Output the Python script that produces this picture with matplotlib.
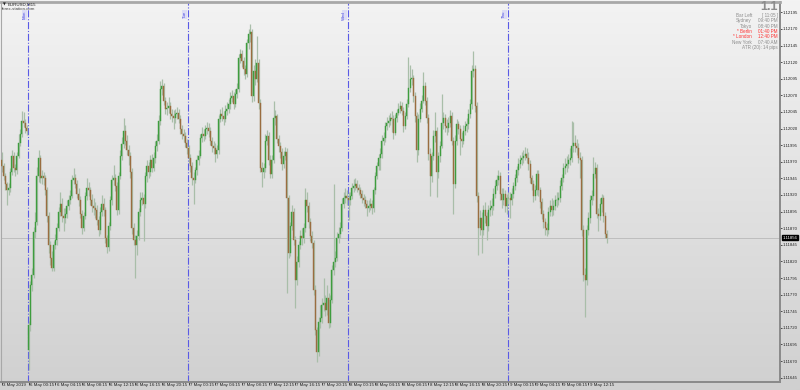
import numpy as np
import matplotlib
matplotlib.use("Agg")
import matplotlib.pyplot as plt
import matplotlib.transforms as mtransforms
from matplotlib.colors import LinearSegmentedColormap

plt.rcParams["font.family"] = ["Liberation Sans", "DejaVu Sans"]

# EURUSD M15 bars, 3 May 2019 20:00 .. 9 May 2019 ~15:00
opens = [
    1.11972, 1.11964, 1.11949, 1.11937, 1.11927, 1.11930, 1.11954, 1.11979, 1.11960, 1.11957, 1.11979, 1.11999, 1.12012, 1.12032, 1.12029, 1.12021,
    1.11687, 1.11724, 1.11784, 1.11799, 1.11864, 1.11879, 1.11949, 1.11975, 1.11946, 1.11948, 1.11945, 1.11927, 1.11889, 1.11844, 1.11825, 1.11810,
    1.11844, 1.11852, 1.11870, 1.11894, 1.11907, 1.11889, 1.11885, 1.11892, 1.11904, 1.11912, 1.11919, 1.11942, 1.11945, 1.11937, 1.11922, 1.11912,
    1.11892, 1.11871, 1.11889, 1.11919, 1.11930, 1.11927, 1.11912, 1.11904, 1.11900, 1.11897, 1.11882, 1.11867, 1.11894, 1.11907, 1.11897, 1.11855,
    1.11841, 1.11874, 1.11912, 1.11942, 1.11945, 1.11934, 1.11897, 1.11949, 1.11979, 1.11997, 1.12017, 1.12002, 1.11987, 1.11979, 1.11954, 1.11870,
    1.11852, 1.11844, 1.11859, 1.11894, 1.11912, 1.11916, 1.11907, 1.11949, 1.11964, 1.11954, 1.11972, 1.11961, 1.11975, 1.11994, 1.12002, 1.12032,
    1.12080, 1.12084, 1.12062, 1.12050, 1.12051, 1.12054, 1.12042, 1.12039, 1.12036, 1.12042, 1.12044, 1.12035, 1.12020, 1.12012, 1.12009, 1.11999,
    1.11990, 1.11976, 1.11964, 1.11945, 1.11942, 1.11957, 1.11972, 1.11979, 1.12006, 1.12012, 1.12009, 1.12020, 1.12021, 1.12017, 1.12002, 1.11994,
    1.11990, 1.11982, 1.11987, 1.12035, 1.12042, 1.12039, 1.12035, 1.12047, 1.12050, 1.12057, 1.12066, 1.12069, 1.12057, 1.12072, 1.12080, 1.12126,
    1.12132, 1.12122, 1.12110, 1.12102, 1.12149, 1.12162, 1.12165, 1.12069, 1.12107, 1.12095, 1.12119, 1.12059, 1.11960, 1.11954, 1.11960, 1.12002,
    1.12009, 1.11972, 1.11952, 1.11972, 1.12036, 1.12039, 1.12005, 1.11994, 1.11984, 1.11967, 1.11979, 1.11984, 1.11915, 1.11832, 1.11874, 1.11894,
    1.11852, 1.11792, 1.11819, 1.11844, 1.11859, 1.11855, 1.11870, 1.11912, 1.11904, 1.11879, 1.11859, 1.11847, 1.11777, 1.11717, 1.11684, 1.11729,
    1.11735, 1.11754, 1.11757, 1.11747, 1.11765, 1.11727, 1.11762, 1.11807, 1.11819, 1.11825, 1.11856, 1.11862, 1.11870, 1.11907, 1.11916, 1.11919,
    1.11915, 1.11912, 1.11919, 1.11930, 1.11934, 1.11937, 1.11931, 1.11927, 1.11922, 1.11915, 1.11912, 1.11907, 1.11901, 1.11904, 1.11907, 1.11900,
    1.11927, 1.11949, 1.11964, 1.11975, 1.11982, 1.12002, 1.12006, 1.12024, 1.12029, 1.12032, 1.12036, 1.12035, 1.12014, 1.12036, 1.12044, 1.12050,
    1.12054, 1.12047, 1.12024, 1.12039, 1.12057, 1.12081, 1.12095, 1.12096, 1.12069, 1.12039, 1.11987, 1.12035, 1.12050, 1.12062, 1.12084, 1.12062,
    1.12036, 1.11982, 1.11949, 1.11979, 1.12009, 1.12017, 1.11954, 1.11979, 1.11994, 1.12029, 1.12036, 1.12024, 1.12021, 1.12029, 1.12039, 1.12002,
    1.11937, 1.12002, 1.12027, 1.12020, 1.12005, 1.12002, 1.12017, 1.12024, 1.12027, 1.12042, 1.12057, 1.12107, 1.12110, 1.12054, 1.11919, 1.11870,
    1.11885, 1.11867, 1.11897, 1.11889, 1.11874, 1.11897, 1.11901, 1.11904, 1.11922, 1.11934, 1.11942, 1.11948, 1.11922, 1.11912, 1.11922, 1.11904,
    1.11915, 1.11916, 1.11912, 1.11922, 1.11934, 1.11945, 1.11957, 1.11967, 1.11972, 1.11975, 1.11979, 1.11982, 1.11975, 1.11967, 1.11946, 1.11937,
    1.11919, 1.11927, 1.11952, 1.11927, 1.11909, 1.11892, 1.11879, 1.11870, 1.11867, 1.11894, 1.11904, 1.11897, 1.11904, 1.11912, 1.11912, 1.11916,
    1.11934, 1.11945, 1.11960, 1.11964, 1.11967, 1.11972, 1.11976, 1.11994, 1.11999, 1.11994, 1.11990, 1.11976, 1.11972, 1.11867, 1.11799, 1.11792,
    1.11867, 1.11885, 1.11912, 1.11919, 1.11952, 1.11960, 1.11892, 1.11889, 1.11907, 1.11915, 1.11889, 1.11862,
]
highs = [
    1.11985, 1.11968, 1.11953, 1.11940, 1.11938, 1.11960, 1.11987, 1.11984, 1.11966, 1.11985, 1.12012, 1.12020, 1.12047, 1.12045, 1.12035, 1.12026,
    1.11730, 1.11790, 1.11810, 1.11872, 1.11895, 1.11962, 1.11987, 1.11980, 1.11958, 1.11955, 1.11950, 1.11932, 1.11895, 1.11850, 1.11835, 1.11850,
    1.11862, 1.11878, 1.11902, 1.11925, 1.11915, 1.11900, 1.11900, 1.11912, 1.11920, 1.11928, 1.11950, 1.11960, 1.11952, 1.11942, 1.11930, 1.11918,
    1.11898, 1.11895, 1.11925, 1.11945, 1.11940, 1.11932, 1.11922, 1.11915, 1.11910, 1.11905, 1.11888, 1.11902, 1.11920, 1.11915, 1.11902, 1.11860,
    1.11880, 1.11918, 1.11950, 1.11965, 1.11952, 1.11940, 1.11955, 1.11988, 1.12008, 1.12036, 1.12025, 1.12010, 1.11995, 1.11985, 1.11960, 1.11878,
    1.11860, 1.11868, 1.11900, 1.11925, 1.11925, 1.11922, 1.11955, 1.11972, 1.11970, 1.11980, 1.11982, 1.11985, 1.12002, 1.12012, 1.12040, 1.12092,
    1.12095, 1.12088, 1.12068, 1.12060, 1.12068, 1.12060, 1.12050, 1.12048, 1.12050, 1.12052, 1.12050, 1.12040, 1.12026, 1.12020, 1.12015, 1.12005,
    1.11995, 1.11982, 1.11970, 1.11955, 1.11962, 1.11980, 1.11988, 1.12012, 1.12022, 1.12020, 1.12026, 1.12030, 1.12028, 1.12022, 1.12008, 1.12002,
    1.11998, 1.11995, 1.12040, 1.12050, 1.12052, 1.12046, 1.12055, 1.12060, 1.12065, 1.12075, 1.12078, 1.12075, 1.12080, 1.12088, 1.12132, 1.12140,
    1.12138, 1.12128, 1.12115, 1.12155, 1.12170, 1.12177, 1.12170, 1.12115, 1.12125, 1.12160, 1.12125, 1.12065, 1.11970, 1.11968, 1.12012, 1.12018,
    1.12015, 1.11980, 1.11980, 1.12062, 1.12048, 1.12042, 1.12010, 1.12000, 1.11990, 1.11986, 1.11992, 1.11990, 1.11920, 1.11880, 1.11905, 1.11900,
    1.11858, 1.11828, 1.11850, 1.11868, 1.11870, 1.11878, 1.11930, 1.11925, 1.11910, 1.11885, 1.11866, 1.11852, 1.11785, 1.11722, 1.11737, 1.11755,
    1.11765, 1.11795, 1.11770, 1.11785, 1.11772, 1.11770, 1.11815, 1.11937, 1.11835, 1.11865, 1.11872, 1.11880, 1.11915, 1.11925, 1.11930, 1.11928,
    1.11925, 1.11925, 1.11938, 1.11944, 1.11945, 1.11942, 1.11936, 1.11932, 1.11928, 1.11922, 1.11918, 1.11912, 1.11912, 1.11915, 1.11912, 1.11932,
    1.11955, 1.11970, 1.11982, 1.11990, 1.12010, 1.12015, 1.12030, 1.12038, 1.12040, 1.12044, 1.12046, 1.12040, 1.12042, 1.12050, 1.12058, 1.12062,
    1.12060, 1.12052, 1.12045, 1.12065, 1.12127, 1.12115, 1.12110, 1.12100, 1.12075, 1.12045, 1.12042, 1.12058, 1.12070, 1.12105, 1.12090, 1.12068,
    1.12042, 1.11990, 1.11985, 1.12018, 1.12045, 1.12022, 1.11985, 1.12002, 1.12072, 1.12045, 1.12042, 1.12035, 1.12038, 1.12048, 1.12045, 1.12008,
    1.12010, 1.12035, 1.12032, 1.12025, 1.12015, 1.12025, 1.12032, 1.12036, 1.12050, 1.12065, 1.12115, 1.12137, 1.12115, 1.12060, 1.11925, 1.11898,
    1.11895, 1.11905, 1.11910, 1.11895, 1.11905, 1.11912, 1.11915, 1.11930, 1.11942, 1.11950, 1.11958, 1.11955, 1.11930, 1.11930, 1.11928, 1.11922,
    1.11925, 1.11925, 1.11930, 1.11940, 1.11952, 1.11963, 1.11975, 1.11980, 1.11985, 1.11988, 1.11992, 1.11990, 1.11984, 1.11972, 1.11950, 1.11942,
    1.11935, 1.11958, 1.11958, 1.11932, 1.11915, 1.11898, 1.11886, 1.11878, 1.11902, 1.11912, 1.11915, 1.11912, 1.11920, 1.11925, 1.11925, 1.11942,
    1.11952, 1.11968, 1.11975, 1.11978, 1.11982, 1.11990, 1.12032, 1.12030, 1.12010, 1.12005, 1.11998, 1.11985, 1.11978, 1.11875, 1.11810, 1.11875,
    1.11895, 1.11920, 1.11928, 1.11977, 1.11970, 1.11966, 1.11900, 1.11915, 1.11922, 1.11920, 1.11895, 1.11868,
]
lows = [
    1.11955, 1.11943, 1.11928, 1.11905, 1.11920, 1.11925, 1.11950, 1.11955, 1.11948, 1.11952, 1.11975, 1.11994, 1.12008, 1.12022, 1.12014, 1.12010,
    1.11657, 1.11715, 1.11776, 1.11795, 1.11855, 1.11875, 1.11940, 1.11938, 1.11937, 1.11935, 1.11920, 1.11880, 1.11832, 1.11815, 1.11805, 1.11806,
    1.11838, 1.11845, 1.11866, 1.11888, 1.11880, 1.11866, 1.11878, 1.11885, 1.11898, 1.11906, 1.11915, 1.11936, 1.11930, 1.11915, 1.11903, 1.11885,
    1.11862, 1.11866, 1.11884, 1.11912, 1.11918, 1.11905, 1.11895, 1.11890, 1.11885, 1.11875, 1.11858, 1.11862, 1.11888, 1.11888, 1.11848, 1.11832,
    1.11836, 1.11868, 1.11905, 1.11935, 1.11926, 1.11890, 1.11892, 1.11944, 1.11972, 1.11990, 1.11995, 1.11980, 1.11965, 1.11945, 1.11862, 1.11845,
    1.11795, 1.11830, 1.11852, 1.11888, 1.11905, 1.11850, 1.11900, 1.11940, 1.11945, 1.11948, 1.11955, 1.11956, 1.11968, 1.11986, 1.11996, 1.12025,
    1.12070, 1.12055, 1.12042, 1.12040, 1.12044, 1.12035, 1.12030, 1.12020, 1.12028, 1.12035, 1.12028, 1.12012, 1.12004, 1.12000, 1.11992, 1.11982,
    1.11968, 1.11955, 1.11935, 1.11907, 1.11938, 1.11950, 1.11965, 1.11975, 1.12000, 1.12002, 1.12004, 1.12012, 1.12008, 1.11995, 1.11985, 1.11982,
    1.11970, 1.11975, 1.11982, 1.12030, 1.12032, 1.12026, 1.12030, 1.12040, 1.12044, 1.12050, 1.12060, 1.12050, 1.12052, 1.12066, 1.12075, 1.12118,
    1.12112, 1.12100, 1.12095, 1.12098, 1.12140, 1.12150, 1.12060, 1.12062, 1.12085, 1.12090, 1.12050, 1.11955, 1.11932, 1.11945, 1.11955, 1.11995,
    1.11965, 1.11945, 1.11946, 1.11968, 1.12025, 1.11998, 1.11985, 1.11976, 1.11958, 1.11960, 1.11972, 1.11772, 1.11825, 1.11828, 1.11868, 1.11845,
    1.11750, 1.11785, 1.11812, 1.11838, 1.11845, 1.11848, 1.11865, 1.11895, 1.11870, 1.11850, 1.11840, 1.11770, 1.11710, 1.11668, 1.11678, 1.11720,
    1.11728, 1.11745, 1.11738, 1.11740, 1.11720, 1.11722, 1.11758, 1.11800, 1.11812, 1.11820, 1.11848, 1.11855, 1.11866, 1.11900, 1.11908, 1.11905,
    1.11882, 1.11905, 1.11914, 1.11925, 1.11928, 1.11925, 1.11920, 1.11915, 1.11908, 1.11904, 1.11900, 1.11888, 1.11895, 1.11898, 1.11892, 1.11895,
    1.11922, 1.11944, 1.11958, 1.11958, 1.11976, 1.11995, 1.12000, 1.12018, 1.12022, 1.12026, 1.12015, 1.12004, 1.12010, 1.12030, 1.12040, 1.12044,
    1.12040, 1.12015, 1.12020, 1.12034, 1.12052, 1.12075, 1.12085, 1.12060, 1.12030, 1.11970, 1.11980, 1.12030, 1.12045, 1.12058, 1.12055, 1.12028,
    1.11972, 1.11918, 1.11940, 1.11972, 1.12000, 1.11917, 1.11945, 1.11970, 1.11990, 1.12020, 1.12015, 1.12010, 1.12015, 1.12022, 1.11995, 1.11892,
    1.11930, 1.11995, 1.12012, 1.11980, 1.11992, 1.11996, 1.12010, 1.12015, 1.12020, 1.12036, 1.12050, 1.12098, 1.12045, 1.11910, 1.11830, 1.11860,
    1.11832, 1.11860, 1.11878, 1.11852, 1.11866, 1.11888, 1.11890, 1.11898, 1.11915, 1.11928, 1.11935, 1.11912, 1.11900, 1.11905, 1.11895, 1.11892,
    1.11906, 1.11885, 1.11905, 1.11915, 1.11928, 1.11940, 1.11950, 1.11960, 1.11965, 1.11968, 1.11972, 1.11968, 1.11958, 1.11938, 1.11928, 1.11910,
    1.11912, 1.11920, 1.11918, 1.11900, 1.11884, 1.11870, 1.11860, 1.11858, 1.11862, 1.11888, 1.11888, 1.11890, 1.11898, 1.11902, 1.11905, 1.11910,
    1.11928, 1.11940, 1.11952, 1.11955, 1.11960, 1.11965, 1.11970, 1.11985, 1.11985, 1.11980, 1.11968, 1.11945, 1.11858, 1.11790, 1.11737, 1.11785,
    1.11860, 1.11878, 1.11905, 1.11912, 1.11945, 1.11885, 1.11866, 1.11882, 1.11895, 1.11880, 1.11855, 1.11848,
]
closes = [
    1.11964, 1.11949, 1.11937, 1.11927, 1.11930, 1.11954, 1.11979, 1.11960, 1.11957, 1.11979, 1.11999, 1.12012, 1.12032, 1.12029, 1.12021, 1.12017,
    1.11724, 1.11784, 1.11799, 1.11864, 1.11879, 1.11949, 1.11975, 1.11946, 1.11948, 1.11945, 1.11927, 1.11889, 1.11844, 1.11825, 1.11810, 1.11844,
    1.11852, 1.11870, 1.11894, 1.11907, 1.11889, 1.11885, 1.11892, 1.11904, 1.11912, 1.11919, 1.11942, 1.11945, 1.11937, 1.11922, 1.11912, 1.11892,
    1.11871, 1.11889, 1.11919, 1.11930, 1.11927, 1.11912, 1.11904, 1.11900, 1.11897, 1.11882, 1.11867, 1.11894, 1.11907, 1.11897, 1.11855, 1.11841,
    1.11874, 1.11912, 1.11942, 1.11945, 1.11934, 1.11897, 1.11949, 1.11979, 1.11997, 1.12017, 1.12002, 1.11987, 1.11979, 1.11954, 1.11870, 1.11852,
    1.11844, 1.11859, 1.11894, 1.11912, 1.11916, 1.11907, 1.11949, 1.11964, 1.11954, 1.11972, 1.11961, 1.11975, 1.11994, 1.12002, 1.12032, 1.12080,
    1.12084, 1.12062, 1.12050, 1.12051, 1.12054, 1.12042, 1.12039, 1.12036, 1.12042, 1.12044, 1.12035, 1.12020, 1.12012, 1.12009, 1.11999, 1.11990,
    1.11976, 1.11964, 1.11945, 1.11942, 1.11957, 1.11972, 1.11979, 1.12006, 1.12012, 1.12009, 1.12020, 1.12021, 1.12017, 1.12002, 1.11994, 1.11990,
    1.11982, 1.11987, 1.12035, 1.12042, 1.12039, 1.12035, 1.12047, 1.12050, 1.12057, 1.12066, 1.12069, 1.12057, 1.12072, 1.12080, 1.12126, 1.12132,
    1.12122, 1.12110, 1.12102, 1.12149, 1.12162, 1.12165, 1.12069, 1.12107, 1.12095, 1.12119, 1.12059, 1.11960, 1.11954, 1.11960, 1.12002, 1.12009,
    1.11972, 1.11952, 1.11972, 1.12036, 1.12039, 1.12005, 1.11994, 1.11984, 1.11967, 1.11979, 1.11984, 1.11915, 1.11832, 1.11874, 1.11894, 1.11852,
    1.11792, 1.11819, 1.11844, 1.11859, 1.11855, 1.11870, 1.11912, 1.11904, 1.11879, 1.11859, 1.11847, 1.11777, 1.11717, 1.11684, 1.11729, 1.11735,
    1.11754, 1.11757, 1.11747, 1.11765, 1.11727, 1.11762, 1.11807, 1.11819, 1.11825, 1.11856, 1.11862, 1.11870, 1.11907, 1.11916, 1.11919, 1.11915,
    1.11912, 1.11919, 1.11930, 1.11934, 1.11937, 1.11931, 1.11927, 1.11922, 1.11915, 1.11912, 1.11907, 1.11901, 1.11904, 1.11907, 1.11900, 1.11927,
    1.11949, 1.11964, 1.11975, 1.11982, 1.12002, 1.12006, 1.12024, 1.12029, 1.12032, 1.12036, 1.12035, 1.12014, 1.12036, 1.12044, 1.12050, 1.12054,
    1.12047, 1.12024, 1.12039, 1.12057, 1.12081, 1.12095, 1.12096, 1.12069, 1.12039, 1.11987, 1.12035, 1.12050, 1.12062, 1.12084, 1.12062, 1.12036,
    1.11982, 1.11949, 1.11979, 1.12009, 1.12017, 1.11954, 1.11979, 1.11994, 1.12029, 1.12036, 1.12024, 1.12021, 1.12029, 1.12039, 1.12002, 1.11937,
    1.12002, 1.12027, 1.12020, 1.12005, 1.12002, 1.12017, 1.12024, 1.12027, 1.12042, 1.12057, 1.12107, 1.12110, 1.12054, 1.11919, 1.11870, 1.11885,
    1.11867, 1.11897, 1.11889, 1.11874, 1.11897, 1.11901, 1.11904, 1.11922, 1.11934, 1.11942, 1.11948, 1.11922, 1.11912, 1.11922, 1.11904, 1.11915,
    1.11916, 1.11912, 1.11922, 1.11934, 1.11945, 1.11957, 1.11967, 1.11972, 1.11975, 1.11979, 1.11982, 1.11975, 1.11967, 1.11946, 1.11937, 1.11919,
    1.11927, 1.11952, 1.11927, 1.11909, 1.11892, 1.11879, 1.11870, 1.11867, 1.11894, 1.11904, 1.11897, 1.11904, 1.11912, 1.11912, 1.11916, 1.11934,
    1.11945, 1.11960, 1.11964, 1.11967, 1.11972, 1.11976, 1.11994, 1.11999, 1.11994, 1.11990, 1.11976, 1.11972, 1.11867, 1.11799, 1.11792, 1.11867,
    1.11885, 1.11912, 1.11919, 1.11952, 1.11960, 1.11892, 1.11889, 1.11907, 1.11915, 1.11889, 1.11862, 1.11856,
]

# bar index of the first bar of each new day
day_starts = [16, 112, 208, 304]
day_names = ["Mon", "Tue", "Wed", "Thu"]

time_labels = ["3 May 2019", "6 May 00:15", "6 May 04:15", "6 May 08:15", "6 May 12:15",
               "6 May 16:15", "6 May 20:15", "7 May 00:15", "7 May 04:15", "7 May 08:15",
               "7 May 12:15", "7 May 16:15", "7 May 20:15", "8 May 00:15", "8 May 04:15",
               "8 May 08:15", "8 May 12:15", "8 May 16:15", "8 May 20:15", "9 May 00:15",
               "9 May 04:15", "9 May 08:15", "9 May 12:15"]
bars_per_label = 16

price_ticks_top = 1.12195
price_step = 0.00025
n_price_ticks = 23

info_names = ["Bar Left", "Sydney", "Tokyo", "* Berlin", "* London", "New York"]
info_values = ["[ 11:05 ]", "09:40 PM", "08:40 PM", "01:40 PM", "12:40 PM", "07:40 AM"]
info_red = [False, False, False, True, True, False]
atr_text = "ATR (20): 14 pips"

o = np.array(opens)
h = np.array(highs)
l = np.array(lows)
c = np.array(closes)
x = np.arange(len(c))
last_price = closes[-1]

fig = plt.figure(figsize=(8, 3.9), dpi=100)

# window background gradient
bg = fig.add_axes([0, 0, 1, 1], zorder=-10)
grad = np.linspace(0, 1, 256).reshape(-1, 1)
cmap = LinearSegmentedColormap.from_list("bg", ["#f3f3f3", "#d0d0d0"])
bg.imshow(grad, aspect="auto", cmap=cmap, extent=[0, 1, 0, 1])
bg.axis("off")

ax = fig.add_axes([1 / 800, 8 / 390, 779 / 800, 380 / 390])
ax.patch.set_alpha(0)

# wicks
ax.vlines(x, l, h, color="#a9bea9", lw=0.9, zorder=2)
up = c >= o
body_lo = np.minimum(o, c)
body_h = np.abs(c - o)
ax.bar(x[up], body_h[up], bottom=body_lo[up], width=0.6, color="#3e9d3e",
       edgecolor="#3e9d3e", linewidth=0.3, zorder=3)
ax.bar(x[~up], body_h[~up], bottom=body_lo[~up], width=0.6, color="#9a6d40",
       edgecolor="#9a6d40", linewidth=0.3, zorder=3)

# current price line
ax.axhline(last_price, color="#b8b8b8", lw=0.6, zorder=1)

# day separators
for d, name in zip(day_starts, day_names):
    ax.axvline(d - 0.5, color="#5a5ae6", lw=0.8, ls="-.", zorder=1)
    ax.text(d - 1.3, 1.0 - 9 / 380, name, transform=ax.get_xaxis_transform(),
            rotation=90, ha="right", va="top", fontsize=3.2, color="#4a4ae0",
            bbox=dict(boxstyle="square,pad=0.12", fc="#dcdcf6", ec="none"))

ax.set_xlim(-0.6, 467.0)
ax.set_ylim(1.116385, 1.122105)

# price scale on the right
yt = [price_ticks_top - k * price_step for k in range(n_price_ticks)]
ax.yaxis.tick_right()
ax.set_yticks(yt)
ax.set_yticklabels([f"{v:.5f}" for v in yt])
ax.tick_params(axis="y", labelsize=3.1, length=1.5, width=0.6, color="#333333",
               labelcolor="#222222", pad=0.6)

# time scale at the bottom
xt = [k * bars_per_label for k in range(len(time_labels))]
ax.set_xticks(xt)
ax.set_xticklabels(time_labels)
ax.tick_params(axis="x", labelsize=3.2, length=2.5, width=0.6, color="#333333",
               labelcolor="#222222", pad=-1.5)
shift = mtransforms.ScaledTranslation(1.2 / 100, 0, fig.dpi_scale_trans)
for lab in ax.get_xticklabels():
    lab.set_horizontalalignment("left")
    lab.set_transform(lab.get_transform() + shift)

for side in ["right", "bottom"]:
    ax.spines[side].set_color("#8a8a8a")
    ax.spines[side].set_linewidth(1.4)
ax.spines["top"].set_color("#a8a8a8")
ax.spines["top"].set_linewidth(2.0)
ax.spines["left"].set_color("#a8a8a8")
ax.spines["left"].set_linewidth(0.8)

# current price box on the scale
ax.text(1.003, last_price, f"{last_price:.5f}", transform=ax.get_yaxis_transform(),
        ha="left", va="center", fontsize=3.1, color="white",
        bbox=dict(boxstyle="square,pad=0.12", fc="black", ec="black"))

# top-left symbol caption
fig.text(3 / 800, 1 - 4.5 / 390, "\u25bc", fontsize=2.6, color="#222222", va="center",
         family="DejaVu Sans")
fig.text(8 / 800, 1 - 4.5 / 390, "EURUSD,M15", fontsize=3.2, color="#222222", va="center")
fig.text(2 / 800, 1 - 9.5 / 390, "forex-station.com", fontsize=3.2, color="#444444", va="center")

# info panel top-right
fig.text(778 / 800, 1 - 7 / 390, "1.1", fontsize=9, color="#8c8c8c",
         ha="right", va="center", fontweight="bold")
for k, (nm, val, red) in enumerate(zip(info_names, info_values, info_red)):
    yy = 1 - (15.5 + k * 5.3) / 390
    col = "#ff3333" if red else "#8c8c8c"
    fig.text(752 / 800, yy, nm, fontsize=3.3, color=col, ha="right", va="center")
    fig.text(778 / 800, yy, val, fontsize=3.3, color=col, ha="right", va="center")
fig.text(778 / 800, 1 - 47.5 / 390, atr_text, fontsize=3.3, color="#8c8c8c",
         ha="right", va="center")

fig.savefig("out.png", dpi=100)
